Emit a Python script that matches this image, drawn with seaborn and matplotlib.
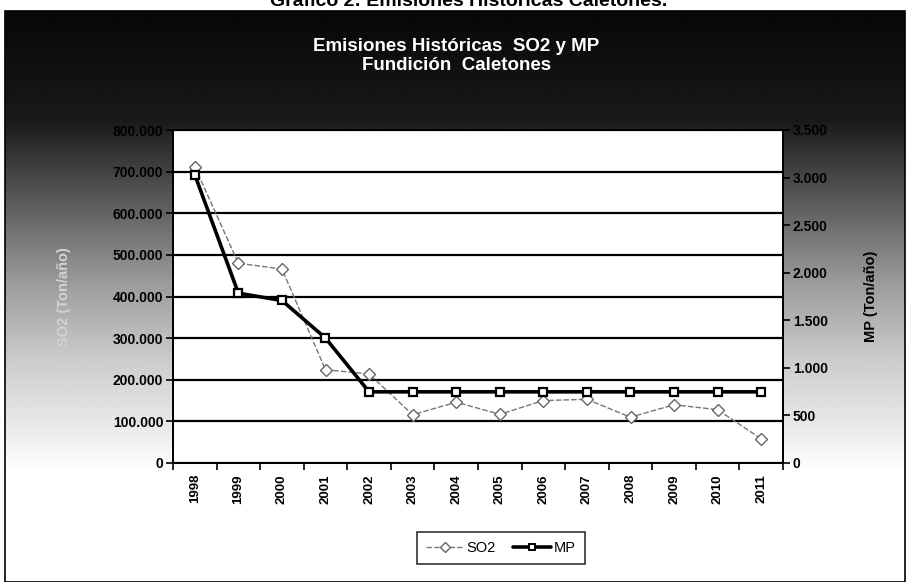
import matplotlib

matplotlib.use("Agg")
import matplotlib.pyplot as plt
import numpy as np
import pandas as pd
import seaborn as sns
from matplotlib.lines import Line2D
from matplotlib.patches import Rectangle
from matplotlib.ticker import FuncFormatter

# datos
years = ["1998", "1999", "2000", "2001", "2002", "2003", "2004",
         "2005", "2006", "2007", "2008", "2009", "2010", "2011"]
so2 = [712000, 480000, 466000, 224000, 214000, 116000, 146000,
       117000, 150000, 153000, 110000, 140000, 128000, 58000]
mp = [3030, 1785, 1708, 1313, 748, 748, 748,
      748, 748, 748, 748, 748, 748, 748]

so2_ticks = [0, 100000, 200000, 300000, 400000, 500000, 600000, 700000, 800000]
mp_ticks = [0, 500, 1000, 1500, 2000, 2500, 3000, 3500]

title_top = "Gráfico 2: Emisiones Históricas Caletones."
title = "Emisiones Históricas  SO2 y MP\nFundición  Caletones"
left_label = "SO2 (Ton/año)"
right_label = "MP (Ton/año)"

df = pd.DataFrame({"pos": np.arange(len(years)), "SO2": so2, "MP": mp})

sns.set_theme(style="white")
plt.rcParams["font.family"] = ["Liberation Sans", "DejaVu Sans"]
plt.rcParams["text.color"] = "black"
plt.rcParams["xtick.color"] = "black"
plt.rcParams["ytick.color"] = "black"

W, H = 909, 582
fig = plt.figure(figsize=(W / 100, H / 100), dpi=100)
fig.patch.set_facecolor("white")


def fx(px):
    return px / W


def fy(py):
    return 1 - py / H


# fondo degradado del escaneo (oscuro arriba, claro abajo)
bg = fig.add_axes([fx(5), 0, fx(900), fy(11)])
rows = np.arange(11, 583)
shade = np.interp(rows, [11, 120, 200, 280, 360, 430, 470, 582],
                  [0.03, 0.10, 0.35, 0.60, 0.80, 0.92, 1.0, 1.0])
bg.imshow(np.repeat(shade[:, None], 10, axis=1), cmap="gray", vmin=0, vmax=1,
          aspect="auto", extent=[0, 1, 0, 1], interpolation="bilinear")
bg.set_axis_off()
fig.add_artist(Rectangle((fx(5), 0), fx(900), fy(11), transform=fig.transFigure,
                         fill=False, edgecolor="black", lw=1.2))

# el título superior aparece cortado en el escaneo original
fig.text(0.515, fy(2), title_top, ha="center", va="center",
         fontsize=14, fontweight="bold", color="black")
fig.text(0.502, fy(56), title, ha="center", va="center", fontsize=13.5,
         fontweight="bold", color="white", linespacing=1.15)

ax = fig.add_axes([fx(173), fy(463), fx(610), (463 - 130) / H])
ax.set_facecolor("white")
ax2 = ax.twinx()

sns.lineplot(data=df, x="pos", y="SO2", ax=ax, color="#777777", lw=1.0,
             linestyle=(0, (4, 1.5)), marker="D", markersize=6,
             markerfacecolor="white", markeredgecolor="#666666",
             markeredgewidth=1.0, zorder=3)
sns.lineplot(data=df, x="pos", y="MP", ax=ax2, color="black", lw=2.6,
             marker="s", markersize=6, markerfacecolor="white",
             markeredgecolor="black", markeredgewidth=1.6, zorder=4)

ax.set_xlim(-0.5, len(years) - 0.5)
ax.set_ylim(so2_ticks[0], so2_ticks[-1])
ax2.set_ylim(mp_ticks[0], mp_ticks[-1])

ax.set_yticks(so2_ticks)
ax2.set_yticks(mp_ticks)
dots = FuncFormatter(lambda v, _: f"{int(round(v)):,}".replace(",", "."))
ax.yaxis.set_major_formatter(dots)
ax2.yaxis.set_major_formatter(dots)
ax.grid(axis="y", color="black", lw=1.6)
ax.set_axisbelow(True)

ax.set_xticks(df["pos"])
ax.set_xticklabels(years, rotation=90, fontsize=9.5, fontweight="bold",
                   color="black")
ax.set_xticks(np.arange(-0.5, len(years)), minor=True)
ax.tick_params(axis="x", which="major", length=0, pad=8)
ax.tick_params(axis="x", which="minor", length=5, width=1.2, color="black",
               direction="out", bottom=True)
ax.tick_params(axis="y", length=5, width=1.2, color="black", direction="out",
               left=True, labelsize=10, pad=2, labelcolor="black")
ax2.tick_params(axis="y", length=5, width=1.2, color="black", direction="out",
                right=True, labelsize=10, pad=2, labelcolor="black")
for lab in ax.get_yticklabels() + ax2.get_yticklabels():
    lab.set_fontweight("bold")

ax.set_xlabel("")
ax.set_ylabel(left_label, fontsize=10.5, fontweight="bold", color="#d2d2d2",
              labelpad=30)
ax2.set_ylabel(right_label, fontsize=10.5, fontweight="bold", color="black",
               labelpad=26)

for a in (ax, ax2):
    for sp in a.spines.values():
        sp.set_color("black")
        sp.set_linewidth(1.4)

handles = [
    Line2D([], [], color="#777777", lw=1.0, linestyle=(0, (4, 1.5)), marker="D",
           markersize=5, markerfacecolor="white", markeredgecolor="#666666"),
    Line2D([], [], color="black", lw=2.6, marker="s", markersize=5,
           markerfacecolor="white", markeredgecolor="black", markeredgewidth=1.4),
]
leg = fig.legend(handles, ["SO2", "MP"], loc="center", ncol=2,
                 bbox_to_anchor=(fx(501), fy(548)), frameon=True, fancybox=False,
                 fontsize=10.5, handlelength=2.6, handletextpad=0.2,
                 columnspacing=1.2, borderpad=0.6)
leg.get_frame().set_edgecolor("black")
leg.get_frame().set_linewidth(1.2)

fig.savefig("out.png", dpi=100)
